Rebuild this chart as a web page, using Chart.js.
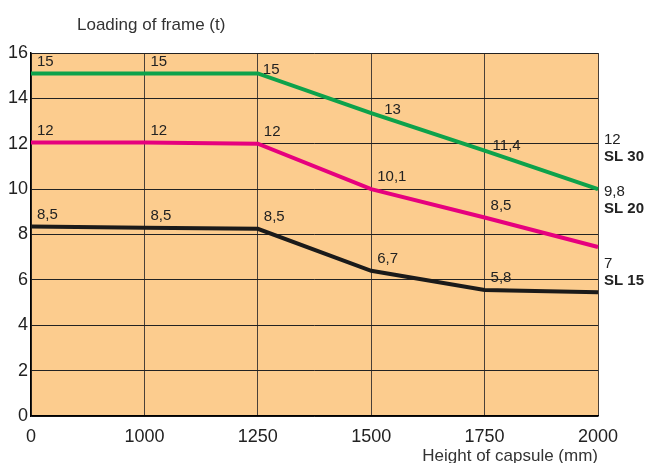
<!DOCTYPE html>
<html>
<head>
<meta charset="utf-8">
<script src="https://cdn.jsdelivr.net/npm/chart.js@4"></script>
<style>
  html, body { margin: 0; padding: 0; background: #fff; }
  #wrap { width: 647px; height: 463px; }
</style>
</head>
<body>
<div id="wrap"><canvas id="loadChart"></canvas></div>
<script>
// capsule heights (mm) and max loading (t)
const heights = ['0', '1000', '1250', '1500', '1750', '2000'];
const sl30 = [15.1, 15.1, 15.1, 13.35, 11.7, 10.0];
const sl20 = [12.05, 12.05, 12.0, 10.0, 8.75, 7.45];
const sl15 = [8.35, 8.3, 8.25, 6.4, 5.55, 5.45];

// printed values next to the points
const sl30Text = ['15', '15', '15', '13', '11,4', ''];
const sl20Text = ['12', '12', '12', '10,1', '8,5', ''];
const sl15Text = ['8,5', '8,5', '8,5', '6,7', '5,8', ''];

// labels at the right end
const endNames = ['SL 30', 'SL 20', 'SL 15'];
const endValues = ['12', '9,8', '7'];
const endAt = [12.15, 9.9, 6.7];

const font = "'Liberation Sans', Arial, sans-serif";

const bgPlugin = {
    id: 'bg',
    beforeDraw(chart) {
        const a = chart.chartArea;
        const c = chart.ctx;
        c.save();
        c.fillStyle = '#FCCC8E';
        c.fillRect(a.left, a.top, a.right - a.left, a.bottom - a.top);
        c.restore();
    }
};

const textPlugin = {
    id: 'texts',
    afterDraw(chart) {
        const c = chart.ctx;
        const y = chart.scales.y;
        c.save();
        c.fillStyle = '#222';
        c.textBaseline = 'middle';
        c.textAlign = 'left';
        c.font = '15px ' + font;
        chart.data.datasets.forEach((ds, d) => {
            const meta = chart.getDatasetMeta(d);
            ds.texts.forEach((t, i) => {
                if (!t) return;
                const p = meta.data[i];
                const s = (ds.shift && ds.shift[i]) || [6, -12];
                c.fillText(t, p.x + s[0], p.y + s[1]);
            });
        });
        // end labels
        const ex = chart.chartArea.right + 6;
        endNames.forEach((n, k) => {
            const py = y.getPixelForValue(endAt[k]);
            c.font = '15px ' + font;
            c.fillText(endValues[k], ex, py);
            c.font = 'bold 15px ' + font;
            c.fillText(n, ex, py + 17);
        });
        // y title, horizontal over the plot
        c.font = '17px ' + font;
        c.fillStyle = '#333';
        c.fillText('Loading of frame (t)', chart.chartArea.left + 46, 25);
        c.restore();
    }
};

new Chart(document.getElementById('loadChart'), {
    type: 'line',
    data: {
        labels: heights,
        datasets: [
            { label: 'SL 30', data: sl30, texts: sl30Text, borderColor: '#0DA24B',
              shift: [null, null, [5, -4], [13, -3], [8, -5]] },
            { label: 'SL 20', data: sl20, texts: sl20Text, borderColor: '#E6007E' },
            { label: 'SL 15', data: sl15, texts: sl15Text, borderColor: '#1A1A1A' }
        ].map(ds => Object.assign(ds, {
            borderWidth: 4,
            pointRadius: 0,
            tension: 0,
            fill: false
        }))
    },
    options: {
        responsive: true,
        maintainAspectRatio: false,
        animation: false,
        layout: { padding: { top: 53, right: 49, left: 0, bottom: 0 } },
        scales: {
            x: {
                offset: false,
                grid: { color: '#4a4038', lineWidth: 1, drawTicks: false, offset: false },
                border: { color: '#000', width: 1.5 },
                ticks: { color: '#222', font: { size: 18, family: font }, padding: 10, maxRotation: 0 },
                title: {
                    display: true,
                    text: 'Height of capsule (mm)',
                    align: 'end',
                    color: '#333',
                    font: { size: 17, family: font },
                    padding: { top: 0, bottom: -4 }
                },
                afterFit(s) { s.height = 47; }
            },
            y: {
                min: 0,
                max: 16,
                ticks: { stepSize: 2, color: '#222', font: { size: 18, family: font }, padding: 3 },
                grid: { color: '#222', lineWidth: 1, drawTicks: false },
                border: { color: '#000', width: 1.5 },
                afterFit(s) { s.width = 31; }
            }
        },
        plugins: {
            legend: { display: false },
            tooltip: { enabled: false }
        }
    },
    plugins: [bgPlugin, textPlugin]
});
</script>
</body>
</html>
